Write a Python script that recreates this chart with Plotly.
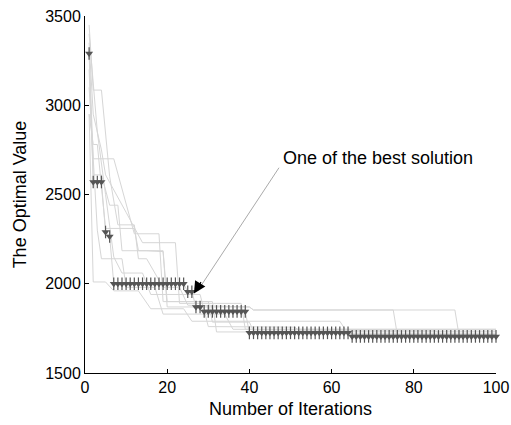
import plotly.graph_objects as go

# Best run (iterations 1..100)
best_iter = list(range(1, 101))
best_vals = ([3290] + [2570] * 3 + [2290] + [2265] + [2000] * 18 + [1955] * 2
             + [1870] * 2 + [1845] * 11 + [1725] * 25 + [1705] * 36)

# Other runs: vertices (iteration, value) of each convergence curve
run1_x = [1, 2, 4, 6, 8, 12, 13, 15, 19, 23, 25, 40, 41, 75, 76, 100]
run1_y = [3450, 3085, 3085, 2600, 2330, 2330, 2140, 2140, 1980, 1980, 1880, 1870, 1853, 1853, 1712, 1712]
run2_x = [1, 2, 7, 11, 12, 18, 19, 30, 31, 40, 41, 100]
run2_y = [3300, 2700, 2700, 2360, 2280, 2280, 1900, 1900, 1785, 1785, 1735, 1735]
run3_x = [1, 2, 4, 6, 8, 9, 15, 19, 20, 40, 41, 90, 91, 100]
run3_y = [3200, 2610, 2610, 2440, 2440, 2185, 2185, 2180, 1870, 1870, 1853, 1853, 1712, 1712]
run4_x = [1, 2, 3, 5, 12, 13, 19, 20, 31, 32, 100]
run4_y = [2950, 2780, 2780, 2310, 2310, 2185, 2185, 1900, 1900, 1730, 1730]
run5_x = [1, 3, 5, 7, 9, 14, 16, 28, 30, 51, 52, 85, 87, 100]
run5_y = [3400, 2850, 2500, 2150, 2060, 2060, 1940, 1940, 1760, 1757, 1740, 1740, 1712, 1712]
run6_x = [1, 3, 4, 9, 10, 17, 19, 34, 36, 100]
run6_y = [3100, 2300, 2140, 2140, 1980, 1980, 1830, 1830, 1745, 1745]
run7_x = [1, 2, 4, 5, 10, 14, 22, 23, 38, 39, 100]
run7_y = [3350, 2950, 2750, 2610, 2400, 2230, 2230, 1890, 1890, 1745, 1745]
run8_x = [1, 2, 5, 7, 13, 16, 24, 26, 62, 64, 100]
run8_y = [2950, 2010, 2010, 1960, 1960, 1860, 1860, 1790, 1790, 1720, 1720]

runs = [(run1_x, run1_y), (run2_x, run2_y), (run3_x, run3_y), (run4_x, run4_y),
        (run5_x, run5_y), (run6_x, run6_y), (run7_x, run7_y), (run8_x, run8_y)]

x_ticks = [0, 20, 40, 60, 80, 100]
y_ticks = [1500, 2000, 2500, 3000, 3500]

FONT = "Liberation Sans, Arial, Helvetica, sans-serif"
DARK = "#555555"

fig = go.Figure()
for rx, ry in runs:
    fig.add_trace(go.Scatter(x=rx, y=ry, mode="lines",
                             line=dict(color="#d6d6d6", width=1),
                             showlegend=False, hoverinfo="skip"))

fig.add_trace(go.Scatter(x=best_iter, y=best_vals, mode="lines+markers",
                         line=dict(color="#d6d6d6", width=1),
                         marker=dict(symbol="triangle-down", size=7, color=DARK,
                                     line=dict(width=0)),
                         cliponaxis=False, showlegend=False))
fig.add_trace(go.Scatter(x=best_iter, y=best_vals, mode="markers",
                         marker=dict(symbol="line-ns-open", size=9, color=DARK,
                                     line=dict(color=DARK, width=1.2)),
                         cliponaxis=False, showlegend=False))

# pointer line
fig.add_shape(type="line", x0=47.2, y0=2650, x1=27.4, y1=1960,
              line=dict(color="#aaaaaa", width=1), xref="x", yref="y")
fig.add_annotation(x=26.5, y=1945, ax=8, ay=-13, axref="pixel", ayref="pixel",
                   showarrow=True, arrowhead=2, arrowsize=2.0, arrowwidth=1.2,
                   arrowcolor="black", text="")
fig.add_annotation(x=47.6, y=2704, text="One of the best solution", showarrow=False,
                   xanchor="left", yanchor="middle",
                   font=dict(family=FONT, size=18, color="black"))

fig.update_layout(
    width=511, height=425,
    margin=dict(l=85, r=15, t=16, b=52),
    paper_bgcolor="white", plot_bgcolor="white",
    font=dict(family=FONT, size=16, color="black"),
)
fig.update_xaxes(range=[0, 100], tickvals=x_ticks, showgrid=False, zeroline=False,
                 showline=True, linecolor="black", linewidth=1, automargin=False,
                 ticks="inside", ticklen=4, tickcolor="black",
                 tickfont=dict(family=FONT, size=16),
                 title=dict(text="Number of Iterations", standoff=7,
                            font=dict(family=FONT, size=18)))
fig.update_yaxes(range=[1500, 3500], tickvals=y_ticks, showgrid=False, zeroline=False,
                 showline=True, linecolor="black", linewidth=1, automargin=False,
                 ticks="inside", ticklen=4, tickcolor="black",
                 tickfont=dict(family=FONT, size=16),
                 title=dict(text="The Optimal Value", standoff=13,
                            font=dict(family=FONT, size=18)))

fig.write_html("out.html", config={"displayModeBar": False},
               post_script="document.body.style.margin='0';")
